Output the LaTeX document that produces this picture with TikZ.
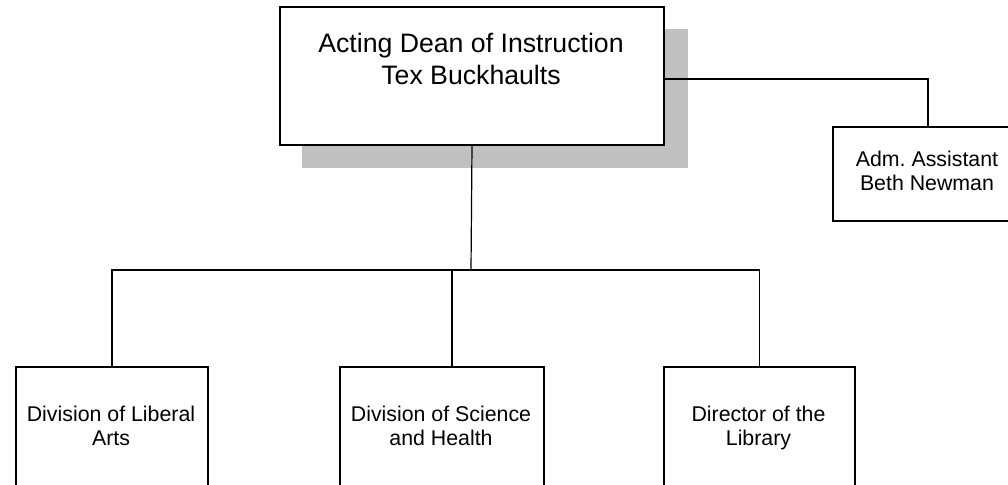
\documentclass[tikz,border=0pt]{standalone}
\usepackage{fontspec}
\setmainfont{Liberation Sans}
\frenchspacing
\definecolor{shadowgray}{HTML}{C0C0C0}
\begin{document}
\begin{tikzpicture}[x=0.75pt,y=-0.75pt,
  box/.style={draw, line width=1.5pt, fill=white, inner sep=0pt, anchor=north west},
  link/.style={line width=0.9pt},
  bigtext/.style={align=center, inner sep=0pt, font=\fontsize{20}{24}\selectfont},
  smalltext/.style={align=center, inner sep=0pt, font=\fontsize{16}{18}\selectfont}]
\useasboundingbox (0,0) rectangle (1008,485);
\clip (0,0) rectangle (1008,485);

% drop shadow of the top box
\fill[shadowgray] (302,29) rectangle (688,168);

% boxes
\node[box, minimum width=288pt, minimum height=103.5pt] (dean) at (279,6) {};
\node[box, minimum width=142.5pt, minimum height=70.5pt] (asst) at (832,126) {};
\node[box, minimum width=144pt, minimum height=115.5pt] (arts) at (15,366) {};
\node[box, minimum width=153pt, minimum height=115.5pt] (sci) at (339,366) {};
\node[box, minimum width=143.25pt, minimum height=115.5pt] (lib) at (663,366) {};

% texts
\node[bigtext] (deantext) at (471,59) {Acting Dean of Instruction\\Tex Buckhaults};
\node[smalltext] (assttext) at (927,170.5) {Adm. Assistant\\Beth Newman};
\node[smalltext] (artstext) at (111,425.5) {Division of Liberal\\Arts};
\node[smalltext] (scitext) at (441,425.5) {Division of Science\\and Health};
\node[smalltext] (libtext) at (758.5,427.5) {Director of the\\Library};

% connectors
\coordinate (bus) at (471,270);
\draw[link] (dean.south) -- (bus);
\draw[link] (arts.north) |- (bus) -| (lib.north);
\draw[link] ([xshift=7.5pt]sci.north) -- ([xshift=7.5pt]sci.north |- bus);
\draw[link] ([yshift=-2.25pt]dean.east) -| (asst.north);
\end{tikzpicture}
\end{document}
